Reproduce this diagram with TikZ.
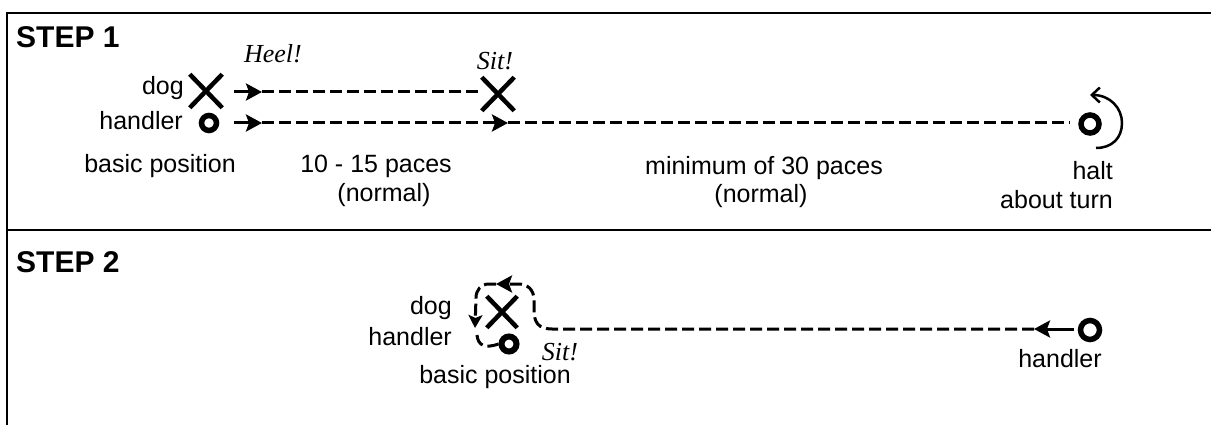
\documentclass[tikz,border=0pt]{standalone}
\usepackage{fontspec}
\setmainfont{Liberation Sans}
\newfontfamily\cmdfont{Liberation Serif}
\usetikzlibrary{arrows.meta,shapes.misc}

\begin{document}
\begin{tikzpicture}[x=1pt,y=-1pt,
  frame/.style={line width=2pt},
  lbl/.style={inner sep=0pt, font=\fontsize{25}{30}\selectfont},
  steptitle/.style={inner sep=0pt, font=\fontsize{30}{36}\selectfont\bfseries},
  cmd/.style={inner sep=0pt, font=\fontsize{26}{30}\selectfont\cmdfont\itshape},
  xmark/.style={cross out, draw, line width=4.5pt, minimum width=28pt, minimum height=29pt, inner sep=0pt},
  omark/.style={circle, draw, line width=5.5pt, minimum size=15pt, inner sep=0pt},
  bighead/.style={-{Stealth[length=16pt,width=17pt,inset=3pt]}},
  trail/.style={line width=3pt, dash pattern=on 12pt off 5pt},
  stub/.style={line width=3pt, bighead},
  trailhead/.style={trail, bighead},
]
\useasboundingbox (0,0) rectangle (1211,425);
\fill[white] (0,0) rectangle (1211,425);

% frame and divider between the two steps
\draw[frame] (1211,13) -- (7,13) -- (7,425);
\draw[frame] (7,230) -- (1211,230);

% ---------- STEP 1 ----------
\node[steptitle, anchor=base west] (t1) at (16,48) {STEP 1};

\node[xmark] (dog1) at (206,91) {};
\node[omark] (hnd1) at (209,123) {};
\node[xmark] (dog2) at (498,94) {};
\node[omark, minimum size=18pt] (halt) at (1090,124) {};

\node[lbl, anchor=base east] (ldog1) at (184,95) {dog};
\node[lbl, anchor=base east] (lhnd1) at (183,130) {handler};
\node[lbl, anchor=base] (lbasic1) at (160,173) {basic position};
\node[cmd, anchor=base] (heel) at (273,63) {Heel!};
\node[cmd, anchor=base] (sit1) at (495,70) {Sit!};
\node[lbl, anchor=base] (pace1) at (376,173) {10 - 15 paces};
\node[lbl, anchor=base] (norm1) at (384,202) {(normal)};
\node[lbl, anchor=base] (pace2) at (764,175) {minimum of 30 paces};
\node[lbl, anchor=base] (norm2) at (761,203) {(normal)};
\node[lbl, anchor=base east] (lhalt) at (1113,180) {halt};
\node[lbl, anchor=base east] (lturn) at (1113,208) {about turn};

% dog walks to the sit point
\coordinate (d1a) at (234,92);
\coordinate (d1b) at (262,92);
\draw[stub] (d1a) -- (d1b);
\draw[trail] (d1b) -- (d1b -| dog2.west);

% handler walks on to the halt point
\coordinate (h1a) at (234,123);
\coordinate (h1b) at (262,123);
\coordinate (h1m) at (508,123);
\draw[stub] (h1a) -- (h1b);
\draw[trailhead] (h1b) -- (h1m);
\draw[trail, shorten >=9pt] (h1m) -- (h1m -| halt.west);

% about turn
\draw[line width=2.5pt, -{Straight Barb[length=8pt,width=15pt]}]
  (1096,148) .. controls (1112,148) and (1122,138) .. (1122,123)
  .. controls (1122,108) and (1110,95) .. (1090,95);

% ---------- STEP 2 ----------
\node[steptitle, anchor=base west] (t2) at (16,272) {STEP 2};

\node[xmark, minimum width=26pt, minimum height=27pt] (dog3) at (502,312) {};
\node[omark, line width=6pt, minimum size=15pt] (hnd3) at (509,344) {};
\node[omark, minimum size=19pt] (hnd4) at (1090,330) {};

\node[lbl, anchor=base east] (ldog3) at (452,314) {dog};
\node[lbl, anchor=base east] (lhnd3) at (452,345) {handler};
\node[cmd, anchor=base] (sit2) at (560,360) {Sit!};
\node[lbl, anchor=base] (lbasic3) at (495,383) {basic position};
\node[lbl, anchor=base] (lhnd4) at (1060,367) {handler};

% handler returns and circles behind the dog
\coordinate (s2a) at (1074,329);
\coordinate (s2b) at (1034,329);
\coordinate (s2c) at (496,284);
\coordinate (s2d) at (475,328);
\coordinate (s2e) at (477,335);
\draw[stub] (s2a) -- (s2b);
\draw[trailhead] (s2b) -- (552,329) .. controls (538,329) and (534,322) .. (534,310)
  -- (534,300) .. controls (534,290) and (528,284) .. (518,284) -- (s2c);
\draw[trail, -{Stealth[length=13pt,width=14pt,inset=3pt]}] (s2c) -- (489,284)
  .. controls (481,284) and (476,290) .. (476,298) -- (s2d);
\draw[trail] (s2e) .. controls (478,345) and (484,349) .. (hnd3.west);
\end{tikzpicture}
\end{document}
